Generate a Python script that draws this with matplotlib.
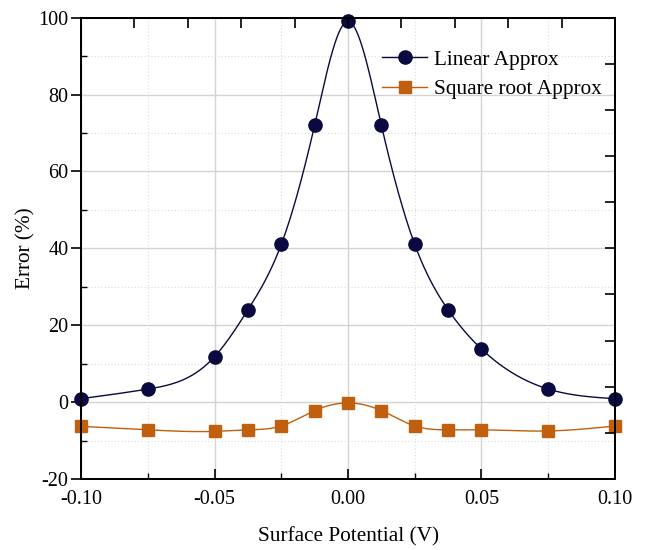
import numpy as np
import matplotlib
matplotlib.use("Agg")
import matplotlib.pyplot as plt
from matplotlib.ticker import MultipleLocator
from matplotlib.lines import Line2D

plt.rcParams['font.family'] = ['Liberation Serif', 'DejaVu Serif']

x_vals = [-0.1, -0.075, -0.05, -0.0375, -0.025, -0.0125, 0.0, 0.0125, 0.025, 0.0375, 0.05, 0.075, 0.1]
linear_err = [0.9, 3.4, 11.8, 24.0, 41.0, 72.0, 99.0, 72.0, 41.0, 24.0, 13.8, 3.4, 0.9]
sqrt_err = [-6.3, -7.2, -7.6, -7.2, -6.2, -2.2, -0.2, -2.2, -6.2, -7.2, -7.2, -7.5, -6.2]
series_names = ["Linear Approx", "Square root Approx"]
x_ticklabels = ['-0.10', '-0.05', '0.00', '0.05', '0.10']
y_ticklabels = ['-20', '0', '20', '40', '60', '80', '100']


def natural_spline(x, y, n=600):
    x = np.asarray(x, float)
    y = np.asarray(y, float)
    k = len(x)
    h = np.diff(x)
    A = np.zeros((k, k))
    b = np.zeros(k)
    A[0, 0] = 1
    A[-1, -1] = 1
    for i in range(1, k - 1):
        A[i, i - 1] = h[i - 1]
        A[i, i] = 2 * (h[i - 1] + h[i])
        A[i, i + 1] = h[i]
        b[i] = 3 * ((y[i + 1] - y[i]) / h[i] - (y[i] - y[i - 1]) / h[i - 1])
    c = np.linalg.solve(A, b)
    xs = np.linspace(x[0], x[-1], n)
    ys = np.empty_like(xs)
    for j, xv in enumerate(xs):
        i = min(np.searchsorted(x, xv, side='right') - 1, k - 2)
        i = max(i, 0)
        dx = xv - x[i]
        bi = (y[i + 1] - y[i]) / h[i] - h[i] * (2 * c[i] + c[i + 1]) / 3
        di = (c[i + 1] - c[i]) / (3 * h[i])
        ys[j] = y[i] + bi * dx + c[i] * dx ** 2 + di * dx ** 3
    return xs, ys


fig = plt.figure(figsize=(6.46, 5.5), dpi=100)
ax = fig.add_axes([0.1254, 0.129, 0.8266, 0.839])

navy = '#0a0a40'
orange = '#c0600e'

xs, ys = natural_spline(x_vals, linear_err)
ax.plot(xs, ys, color=navy, lw=1.0, zorder=3)
ax.plot(x_vals, linear_err, 'o', color=navy, ms=9.5, zorder=4, clip_on=False)
xs2, ys2 = natural_spline(x_vals, sqrt_err)
ax.plot(xs2, ys2, color=orange, lw=1.0, zorder=3)
ax.plot(x_vals, sqrt_err, 's', color=orange, ms=8, zorder=4, clip_on=False)

h1 = Line2D([], [], color=navy, lw=1.0, marker='o', ms=9.5)
h2 = Line2D([], [], color=orange, lw=1.0, marker='s', ms=8)
ax.legend([h1, h2], series_names, loc='upper right', bbox_to_anchor=(1.0, 0.958),
          frameon=False, fontsize=15.3, handlelength=2.1, handletextpad=0.35,
          labelspacing=0.45, borderaxespad=0.2)

ax.set_xlim(-0.1, 0.1)
ax.set_ylim(-20, 100)
ax.set_xticks([-0.1, -0.05, 0, 0.05, 0.1])
ax.set_xticklabels(x_ticklabels)
ax.set_yticks([-20, 0, 20, 40, 60, 80, 100])
ax.set_yticklabels(y_ticklabels)
ax.xaxis.set_minor_locator(MultipleLocator(0.025))
ax.yaxis.set_minor_locator(MultipleLocator(10))

ax.grid(True, which='major', color='#d4d4d4', lw=1.0, ls='-')
ax.grid(True, which='minor', color='#dcdcdc', lw=0.8, ls=(0, (1, 2)))
ax.set_axisbelow(True)

ax.tick_params(axis='x', which='major', direction='in', length=7, width=1.2, labelsize=14.5, pad=8)
ax.tick_params(axis='x', which='minor', direction='in', length=4, width=1.0)
ax.tick_params(axis='y', which='major', direction='out', length=7, width=1.2, labelsize=14.5, pad=2)
ax.tick_params(axis='y', which='minor', direction='in', length=4, width=1.0)
for s in ax.spines.values():
    s.set_linewidth(1.4)

ax.set_xlabel('Surface Potential (V)', fontsize=15.3, labelpad=13)
ax.set_ylabel('Error (%)', fontsize=15.3, labelpad=2)

axt = ax.twiny()
axt.set_xlim(0, 1)
axt.set_xticks(np.linspace(0, 1, 11))
axt.tick_params(axis='x', direction='in', length=7, width=1.2, labeltop=False, top=True)
axr = ax.twinx()
axr.set_ylim(0, 1)
axr.set_yticks(np.linspace(0, 1, 11))
axr.tick_params(axis='y', direction='in', length=7, width=1.2, labelright=False, right=True)
for a in (axt, axr):
    for s in a.spines.values():
        s.set_linewidth(1.4)

fig.savefig('out.png', dpi=100)
